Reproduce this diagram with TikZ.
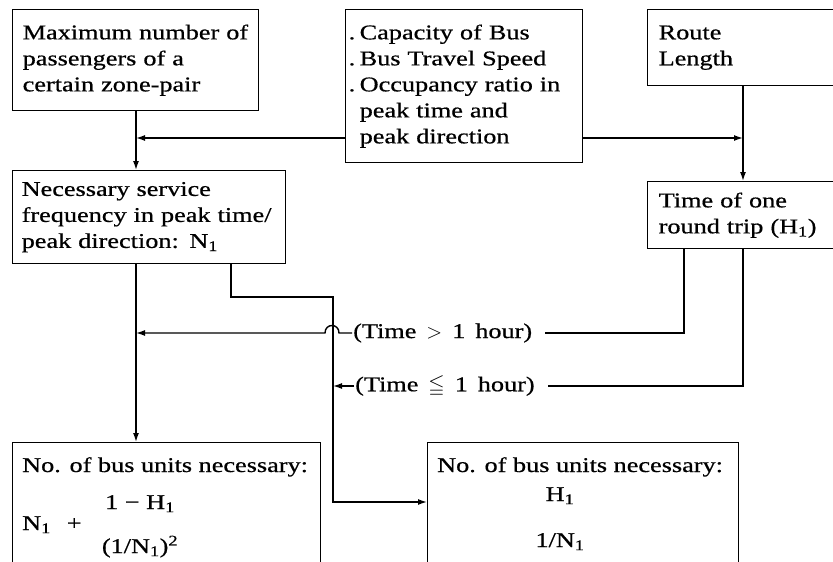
\documentclass[tikz,border=0pt]{standalone}
\usepackage{amssymb}
\usepackage{fontspec}
\setmainfont{Liberation Serif}[FakeStretch=1.25,FakeBold=0.6]
\usetikzlibrary{arrows.meta}
\newcommand{\myfs}{\fontsize{21}{26}\selectfont}
\newcommand{\lblfs}{\fontsize{21}{26}\selectfont\spaceskip=10pt\relax}
\begin{document}
\begin{tikzpicture}[x=1pt,y=-1pt,
  box/.style={draw, line width=1.4pt, anchor=north west, align=left, inner ysep=0pt, font=\myfs},
  txt/.style={inner sep=0pt, font=\myfs},
  lbl/.style={inner xsep=1pt, inner ysep=0pt, font=\lblfs},
  wire/.style={line width=1.4pt},
  arr/.style={wire, -{Latex[length=9pt,width=6pt]}}]
\useasboundingbox (0,0) rectangle (833,562);
\clip (0,0) rectangle (833,562);
\fill[white] (0,0) rectangle (833,562);

% boxes
\node[box, inner xsep=10pt, text width=226pt, minimum height=101pt] (A) at (12,9)
  {Maximum number of\\passengers of a\\certain zone-pair};
\node[box, inner xsep=3pt, text width=231pt, minimum height=153pt] (C) at (345,9)
  {\makebox[11pt][l]{.}Capacity of Bus\\\makebox[11pt][l]{.}Bus Travel Speed\\\makebox[11pt][l]{.}Occupancy ratio in\\\hspace*{11pt}peak time and\\\hspace*{11pt}peak direction};
\node[box, inner xsep=11pt, text width=228pt, minimum height=76pt] (R) at (647,9)
  {Route\\Length};
\node[box, inner xsep=11pt, text width=228pt, minimum height=67pt] (T) at (647,181)
  {Time of one\\round trip (H\textsubscript{1})};
\node[box, inner xsep=9pt, text width=255pt, minimum height=93pt] (B) at (12,170)
  {Necessary service\\frequency in peak time/\\peak direction: N\textsubscript{1}};
\node[box, inner sep=0pt, minimum width=308pt, minimum height=200pt] (D) at (12,442) {};
\node[box, inner sep=0pt, minimum width=311pt, minimum height=200pt] (E) at (427,442) {};

% box contents of D and E
\node[txt, anchor=base west] (d1) at (22,472) {No. of bus units necessary:};
\node[txt, anchor=base] (d2) at (140,509) {1 − H\textsubscript{1}};
\node[txt, anchor=base west] (d3) at (22,530) {N\textsubscript{1}\hspace{16pt}+};
\node[txt, anchor=base] (d4) at (140,553) {(1/N\textsubscript{1})\textsuperscript{2}};
\node[txt, anchor=base west] (e1) at (437,472) {No. of bus units necessary:};
\node[txt, anchor=base] (e2) at (560,501) {H\textsubscript{1}};
\node[txt, anchor=base] (e3) at (560,547) {1/N\textsubscript{1}};

% condition labels
\node[lbl, anchor=west] (l1) at (352,333) {(Time $>$ 1 hour)};
\node[lbl, anchor=west] (l2) at (354,386) {(Time $\leqq$ 1 hour)};

% junction coordinates
\coordinate (jAB) at (136,138);
\coordinate (jRT) at (743,138);
\coordinate (t1) at (684,333);
\coordinate (t2) at (743,386);
\coordinate (b1) at (231,297);
\coordinate (v) at (333,297);
\coordinate (eIn) at (427,502);
\coordinate (hR) at (339,333);
\coordinate (hL) at (325,333);

% connectors
\draw[arr] (A.south -| jAB) -- (B.north -| jAB);
\draw[arr] (C.west |- jAB) -- (jAB);
\draw[arr] (C.east |- jRT) -- (jRT);
\draw[arr] (R.south -| jRT) -- (T.north -| jRT);
\draw[arr] (B.south -| jAB) -- (D.north -| jAB);
\draw[wire] (T.south -| t1) -- (t1) -- ([xshift=12pt]l1.east);
\draw[arr] (l1.west) -- (hR) .. controls ([yshift=10pt]hR) and ([yshift=10pt]hL) .. (hL) -- (jAB |- l1.west);
\draw[wire] (T.south -| t2) -- (t2) -- ([xshift=12pt]l2.east);
\draw[arr] (l2.west) -- (v |- l2.west);
\draw[arr] (B.south -| b1) -- (b1) -- (v) -- (v |- eIn) -- (eIn);
\end{tikzpicture}
\end{document}
